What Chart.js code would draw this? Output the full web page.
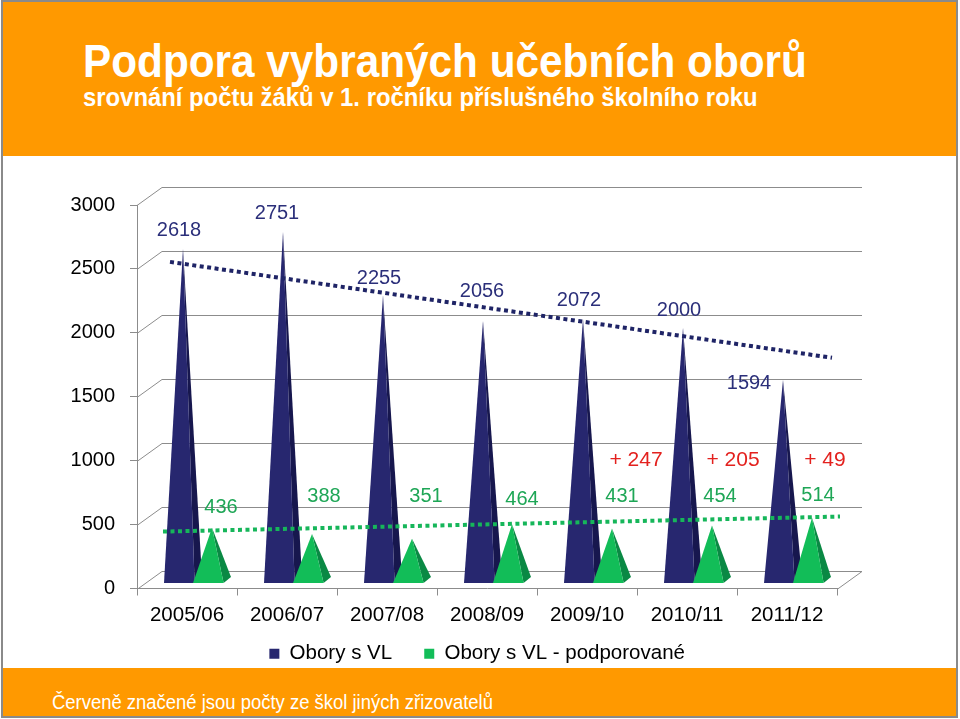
<!DOCTYPE html>
<html>
<head>
<meta charset="utf-8">
<script src="https://cdn.jsdelivr.net/npm/chart.js@4.4.1/dist/chart.umd.min.js"></script>
<style>
  html, body { margin: 0; padding: 0; background: #fff; }
  #page { position: relative; width: 960px; height: 719px; overflow: hidden; background: #fff;
          font-family: "Liberation Sans", Arial, sans-serif; }
  #header { position: absolute; left: 3px; top: 2px; width: 953px; height: 154px; background: #FF9900; }
  #footer { position: absolute; left: 3px; top: 668px; width: 953px; height: 48px; background: #FF9900; z-index: 2; }
  #frame { position: absolute; left: 1px; top: 0; width: 957px; height: 718px; border: 2px solid #8a8a8a;
           box-sizing: border-box; z-index: 5; pointer-events: none; }
  .t { position: absolute; color: #fff; white-space: nowrap; transform-origin: 0 0; transform: scaleX(0.9); }
  #title { left: 83px; top: 37px; font-size: 47px; line-height: 47px; font-weight: bold; }
  #subtitle { left: 83px; top: 84px; font-size: 26.5px; line-height: 26.5px; font-weight: bold; }
  #note { left: 52px; top: 692px; font-size: 20.5px; line-height: 20.5px; z-index: 3; }
  #wrap { position: absolute; left: 0; top: 156px; width: 960px; height: 518px; z-index: 1; }
</style>
</head>
<body>
<div id="page">
  <div id="header"></div>
  <div class="t" id="title">Podpora vybraných učebních oborů</div>
  <div class="t" id="subtitle">srovnání počtu žáků v 1. ročníku příslušného školního roku</div>
  <div id="wrap"><canvas id="c"></canvas></div>
  <div id="footer"></div>
  <div class="t" id="note">Červeně značené jsou počty ze škol jiných zřizovatelů</div>
  <div id="frame"></div>
</div>
<script>
// ---- data ----
const categories = ['2005/06', '2006/07', '2007/08', '2008/09', '2009/10', '2010/11', '2011/12'];
const oboryVL = [2618, 2751, 2255, 2056, 2072, 2000, 1594];
const oboryPodporovane = [436, 388, 351, 464, 431, 454, 514];
const jiniZrizovatele = ['', '', '', '', '+ 247', '+ 205', '+ 49'];
const seriesNames = ['Obory s VL', 'Obory s VL - podporované'];
// dotted trendlines: endpoints (category position, value)
const trendVLx = [-0.17, 6.45];
const trendVLy = [2555, 1805];
const trendPodpX = [-0.24, 6.53];
const trendPodpY = [445, 563];
const yMin = 0, yMax = 3000, yStep = 500;

// ---- styles ----
const NAVY = '#27276F', NAVY_DARK = '#17174E', NAVY_TXT = '#2B2F7A';
const GREEN = '#12BD58', GREEN_DARK = '#0A8944', GREEN_TXT = '#1EA656';
const RED = '#E3211E';
const GRID = '#8c8c8c';
const DEPTH_X = 25, DEPTH_Y = 18;        // 3D wall offset
const SERIES_SHIFT_X = [-4, 25];          // pyramid peak offset from category centre
const BAR_SHIFT_Y = 5;                    // pyramids stand slightly behind the front plane
const navyLabelOff = [[-4,-18],[-6,-18],[-4,-17],[-1,-29],[-4,-18],[-4,-17],[-34,4]];
const greenLabelOff = [[9,-20],[12,-37],[14,-42],[10,-25],[10,-32],[8,-29],[6,-22]];
const noteDx = [0, 0, 0, 0, 49, 46, 38];
const legendPad = ['   ', ' '];
const FONT = '"Liberation Sans", Arial, sans-serif';

const walls = {
  id: 'walls',
  beforeDatasetsDraw(chart) {
    const {ctx, chartArea: {left, right, bottom}, scales: {y}} = chart;
    ctx.save();
    ctx.strokeStyle = GRID; ctx.lineWidth = 1;
    y.ticks.forEach(t => {
      const py = Math.round(y.getPixelForValue(t.value)) + 0.5;
      ctx.beginPath();
      ctx.moveTo(left, py);
      ctx.lineTo(left + DEPTH_X, py - DEPTH_Y);
      ctx.lineTo(right + DEPTH_X, py - DEPTH_Y);
      ctx.stroke();
    });
    const pb = Math.round(bottom) + 0.5;
    ctx.beginPath();
    ctx.moveTo(right, pb);
    ctx.lineTo(right + DEPTH_X, pb - DEPTH_Y);
    ctx.stroke();

    // pyramids
    const drawSet = (idx, front, side) => {
      const meta = chart.getDatasetMeta(idx);
      meta.data.forEach(el => {
        const w = el.width;
        const cx = el.x + SERIES_SHIFT_X[idx];
        const py = el.y - BAR_SHIFT_Y;
        const b = el.base - BAR_SHIFT_Y;
        const fl = cx - 0.655 * w, fr = cx + 0.4 * w, br = cx + 0.655 * w;
        ctx.fillStyle = side;
        ctx.beginPath();
        ctx.moveTo(fr, b); ctx.lineTo(br, b - 6); ctx.lineTo(cx, py); ctx.closePath(); ctx.fill();
        ctx.fillStyle = front;
        ctx.beginPath();
        ctx.moveTo(fl, b); ctx.lineTo(fr, b); ctx.lineTo(cx, py); ctx.closePath(); ctx.fill();
      });
    };
    drawSet(0, NAVY, NAVY_DARK);
    drawSet(1, GREEN, GREEN_DARK);
    ctx.restore();
  },
  beforeDatasetDraw(chart, args) {
    if (args.meta.type === 'bar') return false;
  },
  afterDatasetsDraw(chart) {
    const {ctx, scales: {y}} = chart;
    ctx.save();
    ctx.textAlign = 'center';
    ctx.textBaseline = 'middle';
    ctx.font = '20px ' + FONT;
    const lbl = (idx, offs, color) => {
      const meta = chart.getDatasetMeta(idx);
      ctx.fillStyle = color;
      meta.data.forEach((el, i) => {
        const cx = el.x + SERIES_SHIFT_X[idx], py = el.y - BAR_SHIFT_Y;
        ctx.fillText(String(chart.data.datasets[idx].data[i]), cx + offs[i][0], py + offs[i][1]);
      });
    };
    lbl(0, navyLabelOff, NAVY_TXT);
    lbl(1, greenLabelOff, GREEN_TXT);
    ctx.font = '21px ' + FONT;
    ctx.fillStyle = RED;
    const x = chart.scales.x;
    jiniZrizovatele.forEach((txt, i) => {
      if (!txt) return;
      ctx.fillText(txt, x.getPixelForValue(i) + noteDx[i], y.getPixelForValue(1000));
    });
    ctx.restore();
  }
};

new Chart(document.getElementById('c'), {
  type: 'bar',
  data: {
    labels: categories,
    datasets: [
      { label: seriesNames[0], data: oboryVL, backgroundColor: NAVY },
      { label: seriesNames[1], data: oboryPodporovane, backgroundColor: GREEN },
      { type: 'line', label: 'trend1', xAxisID: 'xt', clip: false,
        data: trendVLx.map((v, i) => ({x: v, y: trendVLy[i]})),
        borderColor: '#1F2466', borderWidth: 4, borderDash: [4, 3.5], pointRadius: 0, fill: false },
      { type: 'line', label: 'trend2', xAxisID: 'xt', clip: false,
        data: trendPodpX.map((v, i) => ({x: v, y: trendPodpY[i]})),
        borderColor: '#16B65A', borderWidth: 4, borderDash: [4, 3.5], pointRadius: 0, fill: false }
    ]
  },
  options: {
    responsive: true,
    maintainAspectRatio: false,
    animation: false,
    events: [],
    layout: { padding: { top: 49, right: 0, bottom: 0, left: 0 } },
    datasets: { bar: { grouped: false, categoryPercentage: 1, barPercentage: 0.29 } },
    scales: {
      x: {
        type: 'category', offset: true,
        grid: { display: true, offset: true, drawOnChartArea: false, drawTicks: true, tickLength: 7, color: GRID },
        border: { display: true, color: GRID },
        ticks: { color: '#000', font: { size: 20.5, family: FONT }, padding: 8, maxRotation: 0 },
        afterFit(s) { s.height = 40; }
      },
      xt: { type: 'linear', display: false, offset: false, grid: { offset: false }, min: -0.5, max: 6.5 },
      y: {
        min: yMin, max: yMax,
        grid: { display: true, drawOnChartArea: false, drawTicks: true, tickLength: 7, color: GRID },
        border: { display: true, color: GRID },
        ticks: { stepSize: yStep, color: '#000', font: { size: 20, family: FONT }, padding: 15,
                 callback: (v) => String(v) },
        afterFit(s) { s.width = 137; }
      },
      yRightSpace: {
        position: 'right', min: 0, max: 1,
        grid: { display: false }, border: { display: false }, ticks: { display: false },
        afterFit(s) { s.width = 123; }
      }
    },
    plugins: {
      legend: {
        position: 'bottom',
        labels: {
          generateLabels(chart) {
            return seriesNames.map((name, i) => ({
              text: name + legendPad[i],
              fillStyle: chart.data.datasets[i].backgroundColor,
              strokeStyle: chart.data.datasets[i].backgroundColor,
              lineWidth: 0, hidden: false, datasetIndex: i, fontColor: '#000'
            }));
          },
          boxWidth: 10, boxHeight: 10, padding: 15,
          color: '#000', font: { size: 20.5, family: FONT }
        }
      },
      tooltip: { enabled: false }
    }
  },
  plugins: [walls]
});
</script>
</body>
</html>
